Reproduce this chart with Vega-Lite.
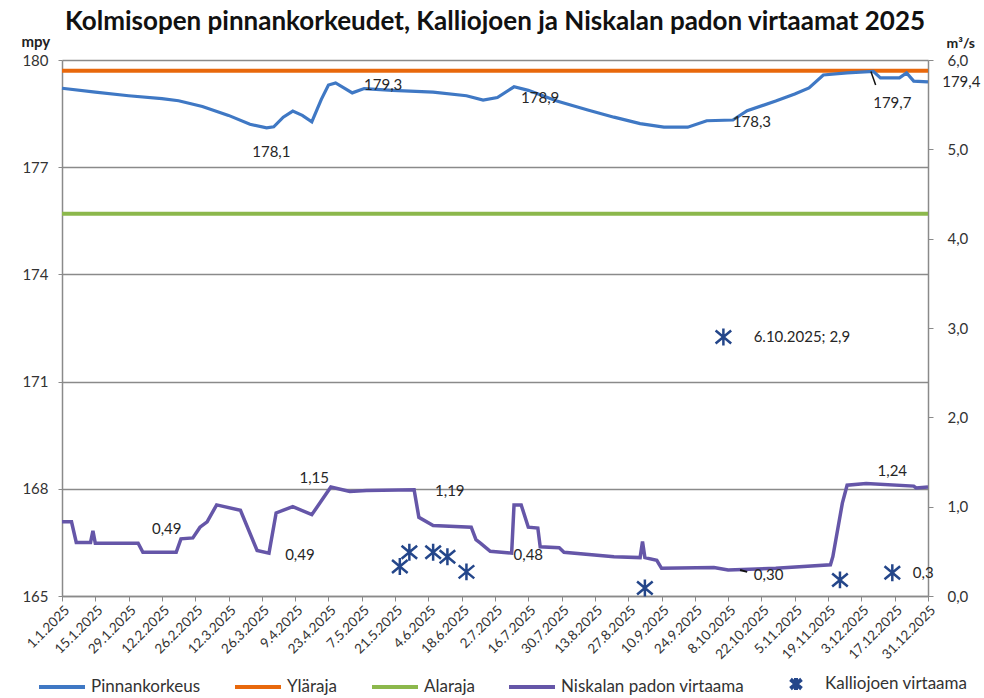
{
  "$schema": "https://vega.github.io/schema/vega-lite/v6.json",
  "width": 866,
  "height": 536,
  "autosize": {"type": "none"},
  "padding": {"left": 62, "top": 60, "right": 56, "bottom": 102},
  "title": {"text": "Kolmisopen pinnankorkeudet, Kalliojoen ja Niskalan padon virtaamat 2025", "font": "Lato", "fontSize": 26, "fontWeight": "bold", "color": "#111", "anchor": "middle", "offset": -1},
  "config": {"font": "Lato", "view": {"stroke": null}},
  "datasets": {
    "level": [
      {"date": "2025-01-01", "value": 179.21}, {"date": "2025-01-15", "value": 179.10}, {"date": "2025-01-29", "value": 179.00},
      {"date": "2025-02-12", "value": 178.92}, {"date": "2025-02-19", "value": 178.86}, {"date": "2025-03-01", "value": 178.70},
      {"date": "2025-03-12", "value": 178.45}, {"date": "2025-03-21", "value": 178.20}, {"date": "2025-03-28", "value": 178.10},
      {"date": "2025-03-31", "value": 178.13}, {"date": "2025-04-04", "value": 178.40}, {"date": "2025-04-08", "value": 178.57},
      {"date": "2025-04-12", "value": 178.45}, {"date": "2025-04-16", "value": 178.27}, {"date": "2025-04-20", "value": 178.90},
      {"date": "2025-04-23", "value": 179.30}, {"date": "2025-04-26", "value": 179.36}, {"date": "2025-04-30", "value": 179.20},
      {"date": "2025-05-03", "value": 179.08}, {"date": "2025-05-08", "value": 179.20}, {"date": "2025-05-20", "value": 179.15},
      {"date": "2025-06-06", "value": 179.10}, {"date": "2025-06-20", "value": 179.00}, {"date": "2025-06-27", "value": 178.88},
      {"date": "2025-07-03", "value": 178.95}, {"date": "2025-07-10", "value": 179.25}, {"date": "2025-07-16", "value": 179.15},
      {"date": "2025-07-28", "value": 178.85}, {"date": "2025-08-10", "value": 178.60}, {"date": "2025-08-21", "value": 178.40},
      {"date": "2025-09-01", "value": 178.22}, {"date": "2025-09-11", "value": 178.12}, {"date": "2025-09-21", "value": 178.12},
      {"date": "2025-09-29", "value": 178.30}, {"date": "2025-10-10", "value": 178.32}, {"date": "2025-10-16", "value": 178.58},
      {"date": "2025-10-28", "value": 178.85}, {"date": "2025-11-05", "value": 179.05}, {"date": "2025-11-11", "value": 179.22},
      {"date": "2025-11-17", "value": 179.58}, {"date": "2025-11-27", "value": 179.64}, {"date": "2025-12-08", "value": 179.68},
      {"date": "2025-12-11", "value": 179.50}, {"date": "2025-12-19", "value": 179.50}, {"date": "2025-12-22", "value": 179.64},
      {"date": "2025-12-25", "value": 179.41}, {"date": "2025-12-31", "value": 179.39}
    ],
    "limits": [
      {"series": "Yläraja", "date": "2025-01-01", "value": 179.7}, {"series": "Yläraja", "date": "2025-12-31", "value": 179.7},
      {"series": "Alaraja", "date": "2025-01-01", "value": 175.7}, {"series": "Alaraja", "date": "2025-12-31", "value": 175.7}
    ],
    "levelLabels": [
      {"date": "2025-03-30", "value": 177.43, "label": "178,1"},
      {"date": "2025-05-16", "value": 179.30, "label": "179,3"},
      {"date": "2025-07-21", "value": 178.94, "label": "178,9"},
      {"date": "2025-10-18", "value": 178.26, "label": "178,3"},
      {"date": "2025-12-16", "value": 178.80, "label": "179,7"},
      {"date": "2026-01-14", "value": 179.38, "label": "179,4"}
    ],
    "levelLeaders": [
      {"date": "2025-12-07", "value": 179.68, "date2": "2025-12-09", "value2": 179.30}
    ],
    "flow": [
      {"date": "2025-01-01", "value": 0.83}, {"date": "2025-01-05", "value": 0.83}, {"date": "2025-01-07", "value": 0.60},
      {"date": "2025-01-13", "value": 0.60}, {"date": "2025-01-14", "value": 0.73}, {"date": "2025-01-15", "value": 0.59},
      {"date": "2025-02-02", "value": 0.59}, {"date": "2025-02-04", "value": 0.49}, {"date": "2025-02-18", "value": 0.49},
      {"date": "2025-02-20", "value": 0.64}, {"date": "2025-02-25", "value": 0.65}, {"date": "2025-02-28", "value": 0.77},
      {"date": "2025-03-03", "value": 0.83}, {"date": "2025-03-07", "value": 1.02}, {"date": "2025-03-17", "value": 0.96},
      {"date": "2025-03-24", "value": 0.51}, {"date": "2025-03-29", "value": 0.48}, {"date": "2025-04-01", "value": 0.93},
      {"date": "2025-04-08", "value": 1.00}, {"date": "2025-04-16", "value": 0.91}, {"date": "2025-04-24", "value": 1.22},
      {"date": "2025-05-02", "value": 1.17}, {"date": "2025-05-09", "value": 1.18}, {"date": "2025-05-29", "value": 1.19},
      {"date": "2025-05-31", "value": 0.88}, {"date": "2025-06-06", "value": 0.79}, {"date": "2025-06-22", "value": 0.77},
      {"date": "2025-06-24", "value": 0.63}, {"date": "2025-06-26", "value": 0.59}, {"date": "2025-06-30", "value": 0.50},
      {"date": "2025-07-09", "value": 0.48}, {"date": "2025-07-10", "value": 1.02}, {"date": "2025-07-13", "value": 1.02},
      {"date": "2025-07-16", "value": 0.77}, {"date": "2025-07-20", "value": 0.76}, {"date": "2025-07-21", "value": 0.55},
      {"date": "2025-07-29", "value": 0.54}, {"date": "2025-07-31", "value": 0.49}, {"date": "2025-08-21", "value": 0.44},
      {"date": "2025-09-01", "value": 0.43}, {"date": "2025-09-02", "value": 0.61}, {"date": "2025-09-03", "value": 0.43},
      {"date": "2025-09-08", "value": 0.40}, {"date": "2025-09-10", "value": 0.31}, {"date": "2025-10-02", "value": 0.32},
      {"date": "2025-10-08", "value": 0.29}, {"date": "2025-10-28", "value": 0.31}, {"date": "2025-11-20", "value": 0.35},
      {"date": "2025-11-21", "value": 0.44}, {"date": "2025-11-25", "value": 1.04}, {"date": "2025-11-27", "value": 1.24},
      {"date": "2025-12-05", "value": 1.26}, {"date": "2025-12-25", "value": 1.23}, {"date": "2025-12-26", "value": 1.21},
      {"date": "2025-12-31", "value": 1.22}
    ],
    "kallio": [
      {"series": "Kalliojoen virtaama", "date": "2025-05-23", "value": 0.33}, {"series": "Kalliojoen virtaama", "date": "2025-05-27", "value": 0.49},
      {"series": "Kalliojoen virtaama", "date": "2025-06-06", "value": 0.49}, {"series": "Kalliojoen virtaama", "date": "2025-06-12", "value": 0.44},
      {"series": "Kalliojoen virtaama", "date": "2025-06-20", "value": 0.27}, {"series": "Kalliojoen virtaama", "date": "2025-09-03", "value": 0.09},
      {"series": "Kalliojoen virtaama", "date": "2025-10-06", "value": 2.9}, {"series": "Kalliojoen virtaama", "date": "2025-11-24", "value": 0.18},
      {"series": "Kalliojoen virtaama", "date": "2025-12-16", "value": 0.26}
    ],
    "flowLabels": [
      {"date": "2025-02-14", "value": 0.75, "label": "0,49"},
      {"date": "2025-04-11", "value": 0.46, "label": "0,49"},
      {"date": "2025-04-17", "value": 1.32, "label": "1,15"},
      {"date": "2025-06-13", "value": 1.18, "label": "1,19"},
      {"date": "2025-07-16", "value": 0.46, "label": "0,48"},
      {"date": "2025-10-25", "value": 0.235, "label": "0,30"},
      {"date": "2025-12-16", "value": 1.40, "label": "1,24"},
      {"date": "2025-12-29", "value": 0.26, "label": "0,3"},
      {"date": "2025-11-08", "value": 2.9, "label": "6.10.2025; 2,9"}
    ],
    "flowLeaders": [
      {"date": "2025-10-13", "value": 0.29, "date2": "2025-10-16", "value2": 0.27}
    ]
  },
  "encoding": {
    "x": {
      "field": "date", "type": "temporal",
      "scale": {"type": "utc", "domain": [{"year": 2025, "month": 1, "date": 1, "utc": true}, {"year": 2025, "month": 12, "date": 31, "utc": true}]},
      "axis": {
        "title": null, "grid": false,
        "values": [
          {"year": 2025, "month": 1, "date": 1, "utc": true}, {"year": 2025, "month": 1, "date": 15, "utc": true},
          {"year": 2025, "month": 1, "date": 29, "utc": true}, {"year": 2025, "month": 2, "date": 12, "utc": true},
          {"year": 2025, "month": 2, "date": 26, "utc": true}, {"year": 2025, "month": 3, "date": 12, "utc": true},
          {"year": 2025, "month": 3, "date": 26, "utc": true}, {"year": 2025, "month": 4, "date": 9, "utc": true},
          {"year": 2025, "month": 4, "date": 23, "utc": true}, {"year": 2025, "month": 5, "date": 7, "utc": true},
          {"year": 2025, "month": 5, "date": 21, "utc": true}, {"year": 2025, "month": 6, "date": 4, "utc": true},
          {"year": 2025, "month": 6, "date": 18, "utc": true}, {"year": 2025, "month": 7, "date": 2, "utc": true},
          {"year": 2025, "month": 7, "date": 16, "utc": true}, {"year": 2025, "month": 7, "date": 30, "utc": true},
          {"year": 2025, "month": 8, "date": 13, "utc": true}, {"year": 2025, "month": 8, "date": 27, "utc": true},
          {"year": 2025, "month": 9, "date": 10, "utc": true}, {"year": 2025, "month": 9, "date": 24, "utc": true},
          {"year": 2025, "month": 10, "date": 8, "utc": true}, {"year": 2025, "month": 10, "date": 22, "utc": true},
          {"year": 2025, "month": 11, "date": 5, "utc": true}, {"year": 2025, "month": 11, "date": 19, "utc": true},
          {"year": 2025, "month": 12, "date": 3, "utc": true}, {"year": 2025, "month": 12, "date": 17, "utc": true},
          {"year": 2025, "month": 12, "date": 31, "utc": true}
        ],
        "labelExpr": "utcFormat(datum.value, '%-d.%-m.%Y')",
        "labelAngle": -45, "labelFontSize": 13.5, "labelColor": "#333", "labelPadding": 2,
        "domainColor": "#8a8a8a", "domainWidth": 1.5, "tickColor": "#8a8a8a", "tickSize": 5, "labelOverlap": false, "labelBound": false, "labelFlush": false
      }
    }
  },
  "layer": [
    {
      "encoding": {
        "y": {
          "field": "value", "type": "quantitative",
          "scale": {"domain": [0, 6], "nice": false},
          "axis": {
            "orient": "right", "values": [0, 1, 2, 3, 4, 5, 6], "grid": false,
            "labelExpr": "replace(format(datum.value, '.1f'), '.', ',')",
            "domainColor": "#8a8a8a", "domainWidth": 1.5, "tickColor": "#8a8a8a", "tickSize": 5, "labelPadding": 14,
            "labelFontSize": 15, "labelColor": "#333",
            "title": "m³/s", "titleAngle": 0, "titleAlign": "left", "titleBaseline": "alphabetic", "titleX": 18, "titleY": -13,
            "titleFontSize": 14, "titleFontWeight": "bold", "titleColor": "#222"
          }
        }
      },
      "layer": [
        {
          "data": {"name": "kallio"},
          "mark": {"type": "point", "filled": false, "strokeWidth": 2.5, "opacity": 1, "size": 4225},
          "encoding": {
            "color": {"field": "series", "type": "nominal",
              "scale": {"domain": ["Pinnankorkeus", "Yläraja", "Alaraja", "Niskalan padon virtaama", "Kalliojoen virtaama"], "range": ["#3f78c4", "#e8680c", "#8cb84c", "#6556a8", "#24468a"]},
              "legend": {"orient": "none", "legendX": -25, "legendY": 599, "direction": "horizontal", "title": null,
                "symbolSize": 2116, "symbolStrokeWidth": 4, "labelFontSize": 17, "labelColor": "#333", "labelFont": "Lato", "labelLimit": 400,
                "columnPadding": 26, "labelOffset": 4}},
            "shape": {"field": "series", "type": "nominal",
              "scale": {"domain": ["Pinnankorkeus", "Yläraja", "Alaraja", "Niskalan padon virtaama", "Kalliojoen virtaama"],
                "range": ["stroke", "stroke", "stroke", "stroke", "M-0.24,-0.2L0.24,0.2M-0.24,0.2L0.24,-0.2M0,-0.26L0,0.26"]},
              "legend": {"orient": "none", "legendX": -25, "legendY": 599, "direction": "horizontal", "title": null,
                "symbolSize": 2116, "symbolStrokeWidth": 4, "labelFontSize": 17, "labelColor": "#333", "labelFont": "Lato", "labelLimit": 400,
                "columnPadding": 26, "labelOffset": 4}}
          }
        },
        {
          "data": {"name": "flow"},
          "mark": {"type": "line", "strokeWidth": 3.5},
          "encoding": {
            "color": {"datum": "Niskalan padon virtaama", "type": "nominal", "legend": null}
          }
        },
        {
          "data": {"name": "flowLeaders"},
          "mark": {"type": "rule", "color": "#111", "strokeWidth": 2},
          "encoding": {"x2": {"field": "date2"}, "y2": {"field": "value2"}}
        },
        {
          "data": {"name": "flowLabels"},
          "mark": {"type": "text", "fontSize": 15, "color": "#262626", "align": "center", "baseline": "middle"},
          "encoding": {"text": {"field": "label"}}
        }
      ]
    },
    {
      "encoding": {
        "y": {
          "field": "value", "type": "quantitative",
          "scale": {"domain": [165, 180], "nice": false, "zero": false},
          "axis": {
            "orient": "left", "values": [165, 168, 171, 174, 177, 180], "grid": true, "gridColor": "#8a8a8a", "gridWidth": 1.5,
            "domainColor": "#8a8a8a", "domainWidth": 1.5, "tickColor": "#8a8a8a", "tickSize": 4, "labelPadding": 10,
            "labelFontSize": 15, "labelColor": "#333",
            "title": "mpy", "titleAngle": 0, "titleAlign": "left", "titleBaseline": "alphabetic", "titleX": -41, "titleY": -14,
            "titleFontSize": 15, "titleFontWeight": "bold", "titleColor": "#222"
          }
        }
      },
      "layer": [
        {
          "data": {"name": "limits"},
          "mark": {"type": "line", "strokeWidth": 4},
          "encoding": {
            "detail": {"field": "series"},
            "color": {"field": "series", "type": "nominal", "legend": null}
          }
        },
        {
          "data": {"name": "level"},
          "mark": {"type": "line", "strokeWidth": 3.2},
          "encoding": {
            "color": {"datum": "Pinnankorkeus", "type": "nominal", "legend": null}
          }
        },
        {
          "data": {"name": "levelLeaders"},
          "mark": {"type": "rule", "color": "#111", "strokeWidth": 1.5},
          "encoding": {"x2": {"field": "date2"}, "y2": {"field": "value2"}}
        },
        {
          "data": {"name": "levelLabels"},
          "mark": {"type": "text", "fontSize": 15, "color": "#262626", "align": "center", "baseline": "middle"},
          "encoding": {"text": {"field": "label"}}
        }
      ]
    }
  ],
  "resolve": {"scale": {"y": "independent"}}
}
